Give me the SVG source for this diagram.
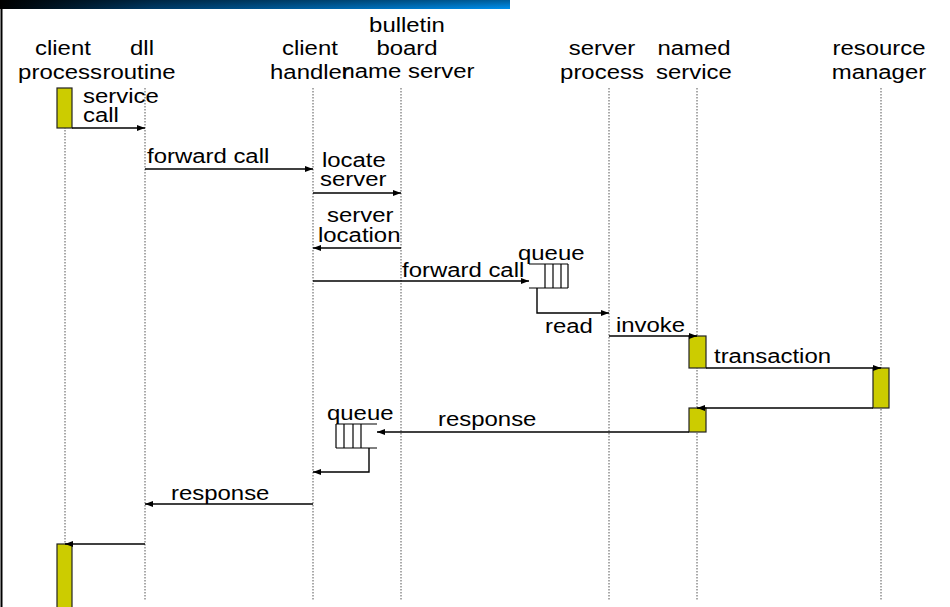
<svg xmlns="http://www.w3.org/2000/svg" width="950" height="607" viewBox="0 0 950 607">
<defs>
<linearGradient id="hdr" x1="0" y1="0" x2="1" y2="0">
<stop offset="0" stop-color="#000000"/>
<stop offset="0.3" stop-color="#003a66"/>
<stop offset="1" stop-color="#0090ee"/>
</linearGradient>
<linearGradient id="hdrv" x1="0" y1="0" x2="0" y2="1">
<stop offset="0" stop-color="#000" stop-opacity="0.35"/>
<stop offset="1" stop-color="#000" stop-opacity="0"/>
</linearGradient>
<marker id="ah" viewBox="0 0 8 6" refX="8" refY="3" markerWidth="8" markerHeight="6" markerUnits="userSpaceOnUse" orient="auto">
<path d="M0,0 L8,3 L0,6 z" fill="#000"/>
</marker>
</defs>
<style>
text{font-family:"Liberation Sans",Arial,sans-serif;font-size:21px;fill:#000;transform-box:fill-box;transform-origin:left center;transform:scaleX(1.14)}
text.hd{text-anchor:middle;transform-origin:center center}
.life{stroke:#555;stroke-width:1;stroke-dasharray:1.5,1.5;fill:none}
.msg{stroke:#000;stroke-width:1.4;fill:none}
.arr{marker-end:url(#ah)}
.act{fill:#cccc00;stroke:#222;stroke-width:1.2}
.q{stroke:#000;stroke-width:1.2;fill:none}
</style>
<rect width="950" height="607" fill="#fff"/>
<rect x="0" y="0" width="510" height="9" fill="url(#hdr)"/>
<rect x="0" y="0" width="510" height="9" fill="url(#hdrv)"/>
<line x1="1.5" y1="9" x2="1.5" y2="607" stroke="#000" stroke-width="2"/>

<g id="client-process">
<text class="hd" x="63" y="55">client</text>
<text class="hd" x="60" y="79">process</text>
<line class="life" x1="65" y1="88" x2="65" y2="600"/>
<rect class="act" x="57" y="88" width="15" height="40"/>
<rect class="act" x="57" y="544" width="15" height="70"/>
</g>
<g id="dll-routine">
<text class="hd" x="142" y="55">dll</text>
<text class="hd" x="139" y="79">routine</text>
<line class="life" x1="145" y1="88" x2="145" y2="600"/>
</g>
<g id="client-handler">
<text class="hd" x="310" y="55">client</text>
<text class="hd" x="310" y="79">handler</text>
<line class="life" x1="313" y1="88" x2="313" y2="600"/>
</g>
<g id="bulletin-board">
<text class="hd" x="407" y="32">bulletin</text>
<text class="hd" x="407" y="55">board</text>
<text class="hd" x="408" y="78">name server</text>
<line class="life" x1="401" y1="88" x2="401" y2="600"/>
</g>
<g id="server-process">
<text class="hd" x="602" y="55">server</text>
<text class="hd" x="602" y="79">process</text>
<line class="life" x1="609" y1="88" x2="609" y2="600"/>
</g>
<g id="named-service">
<text class="hd" x="694" y="55">named</text>
<text class="hd" x="694" y="79">service</text>
<line class="life" x1="697" y1="88" x2="697" y2="600"/>
<rect class="act" x="689" y="336" width="17" height="32"/>
<rect class="act" x="689" y="408" width="17" height="24"/>
</g>
<g id="resource-manager">
<text class="hd" x="879" y="55">resource</text>
<text class="hd" x="879" y="79">manager</text>
<line class="life" x1="881" y1="88" x2="881" y2="600"/>
<rect class="act" x="873" y="368" width="16" height="40"/>
</g>
<g id="queue-1">
<text x="518" y="260">queue</text>
<line class="q" x1="529" y1="264" x2="568" y2="264"/>
<line class="q" x1="529" y1="288" x2="568" y2="288"/>
<line class="q" x1="545" y1="264" x2="545" y2="288"/>
<line class="q" x1="553" y1="264" x2="553" y2="288"/>
<line class="q" x1="561" y1="264" x2="561" y2="288"/>
<line class="q" x1="568" y1="264" x2="568" y2="288"/>
</g>
<g id="queue-2">
<text x="327" y="420">queue</text>
<line class="q" x1="336" y1="424" x2="377" y2="424"/>
<line class="q" x1="336" y1="448" x2="377" y2="448"/>
<line class="q" x1="336" y1="424" x2="336" y2="448"/>
<line class="q" x1="344" y1="424" x2="344" y2="448"/>
<line class="q" x1="353" y1="424" x2="353" y2="448"/>
<line class="q" x1="361" y1="424" x2="361" y2="448"/>
</g>
<g id="connectors">
<line class="msg arr" x1="72" y1="128" x2="145" y2="128"/>
<text x="83" y="103">service</text>
<text x="83" y="122">call</text>
<line class="msg arr" x1="145" y1="169" x2="313" y2="169"/>
<text x="147" y="163">forward call</text>
<line class="msg arr" x1="313" y1="193" x2="401" y2="193"/>
<text x="322" y="167">locate</text>
<text x="320" y="186">server</text>
<line class="msg arr" x1="401" y1="248" x2="313" y2="248"/>
<text x="327" y="222">server</text>
<text x="318" y="242">location</text>
<line class="msg arr" x1="313" y1="281" x2="529" y2="281"/>
<text x="402" y="277">forward call</text>
<polyline class="msg arr" points="537,288 537,313 609,313"/>
<text x="545" y="333">read</text>
<line class="msg arr" x1="609" y1="336" x2="697" y2="336"/>
<text x="616" y="332">invoke</text>
<line class="msg arr" x1="706" y1="368" x2="881" y2="368"/>
<text x="714" y="363">transaction</text>
<line class="msg arr" x1="873" y1="408" x2="697" y2="408"/>
<line class="msg arr" x1="689" y1="432" x2="377" y2="432"/>
<text x="438" y="426">response</text>
<polyline class="msg arr" points="369,448 369,472 313,472"/>
<line class="msg arr" x1="313" y1="504" x2="145" y2="504"/>
<text x="171" y="500">response</text>
<line class="msg arr" x1="145" y1="544" x2="65" y2="544"/>
</g>
</svg>
